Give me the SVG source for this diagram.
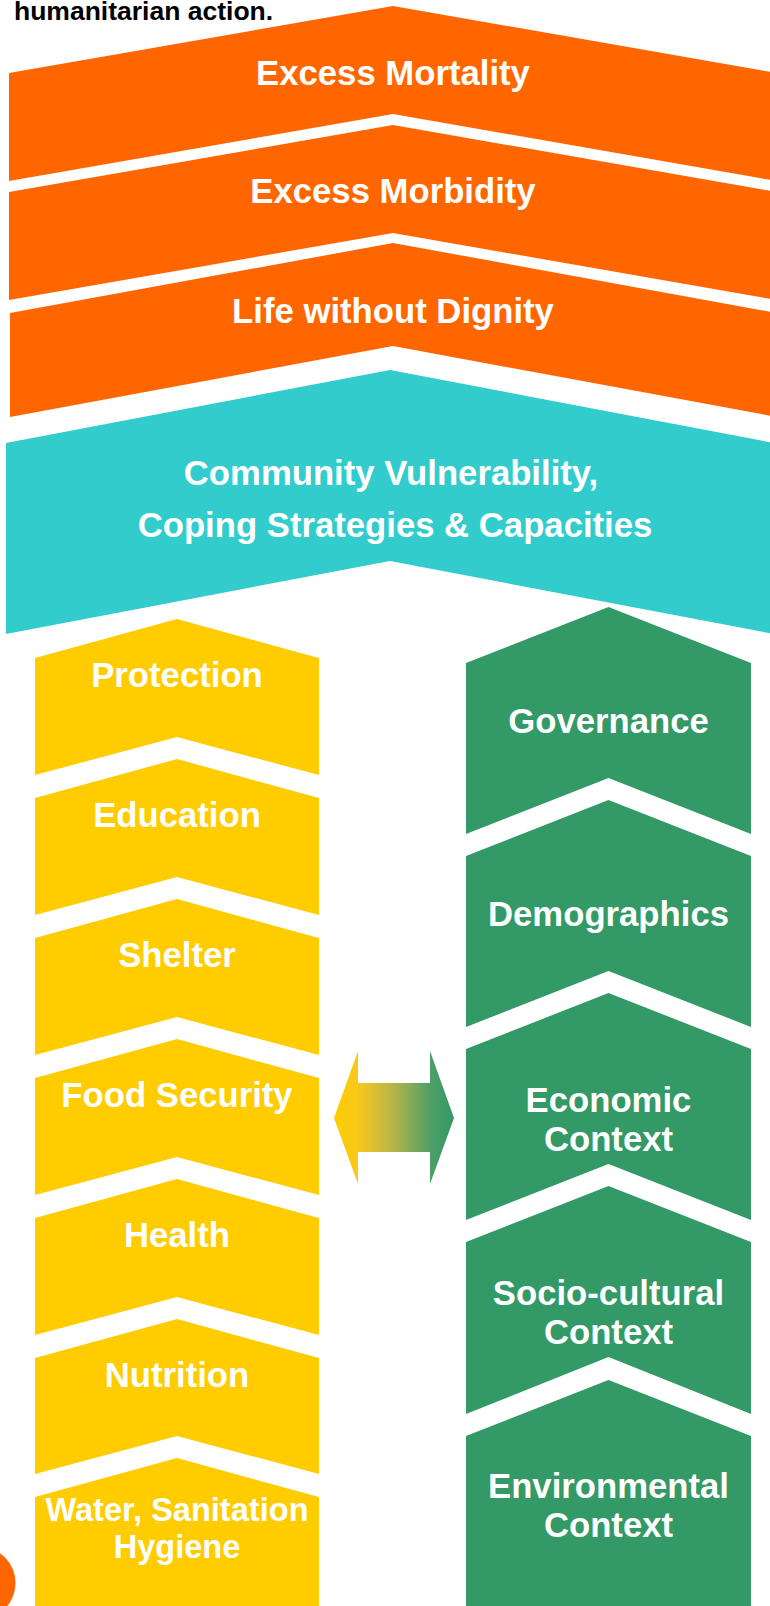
<svg xmlns="http://www.w3.org/2000/svg" width="770" height="1606" viewBox="0 0 770 1606">
<style>
.lbl{font-family:"Liberation Sans",Arial,sans-serif;font-weight:bold;font-size:34.7px;fill:#FFFFFF;text-anchor:middle}
.sm{font-size:32.6px}
.or{fill:#FF6600}
.te{fill:#33CCCC}
.ye{fill:#FFCC00}
.gr{fill:#339966}
</style>
<defs>
<linearGradient id="arrowGrad" x1="334" y1="0" x2="454" y2="0" gradientUnits="userSpaceOnUse">
<stop offset="0" stop-color="#FFCC00"/>
<stop offset="0.2" stop-color="#F8C81C"/>
<stop offset="0.5" stop-color="#B5B44A"/>
<stop offset="0.8" stop-color="#4F9F66"/>
<stop offset="1" stop-color="#339966"/>
</linearGradient>
</defs>
<rect width="770" height="1606" fill="#FFFFFF"/>
<text x="14" y="20" font-family="'Liberation Sans',Arial,sans-serif" font-weight="bold" font-size="26.5" fill="#000000">humanitarian action.</text>

<g id="excess-mortality">
<polygon class="or" points="9,73 393,6 777,73 777,181 393,114 9,181"/>
<text class="lbl" x="393" y="85">Excess Mortality</text>
</g>
<g id="excess-morbidity">
<polygon class="or" points="9,192 393,125 777,192 777,300 393,233 9,300"/>
<text class="lbl" x="393" y="203">Excess Morbidity</text>
</g>
<g id="life-without-dignity">
<polygon class="or" points="10,313 393,243 777,313 777,417 393,346 10,417"/>
<text class="lbl" x="393" y="323">Life without Dignity</text>
</g>
<g id="community">
<polygon class="te" points="6,443 390,370 774,443 774,634 390,561 6,634"/>
<text class="lbl" x="391" y="485">Community Vulnerability,</text>
<text class="lbl" x="395" y="537">Coping Strategies &amp; Capacities</text>
</g>

<g id="protection">
<polygon class="ye" points="35,658 177,619 319,658 319,775 177,737 35,775"/>
<text class="lbl" x="177" y="687">Protection</text>
</g>
<g id="education">
<polygon class="ye" points="35,798 177,759 319,798 319,915 177,877 35,915"/>
<text class="lbl" x="177" y="827">Education</text>
</g>
<g id="shelter">
<polygon class="ye" points="35,938 177,899 319,938 319,1055 177,1017 35,1055"/>
<text class="lbl" x="177" y="967">Shelter</text>
</g>
<g id="food-security">
<polygon class="ye" points="35,1078 177,1039 319,1078 319,1195 177,1157 35,1195"/>
<text class="lbl" x="177" y="1107">Food Security</text>
</g>
<g id="health">
<polygon class="ye" points="35,1218 177,1179 319,1218 319,1335 177,1297 35,1335"/>
<text class="lbl" x="177" y="1247">Health</text>
</g>
<g id="nutrition">
<polygon class="ye" points="35,1358 177,1319 319,1358 319,1474 177,1436 35,1474"/>
<text class="lbl" x="177" y="1387">Nutrition</text>
</g>
<g id="wash">
<polygon class="ye" points="35,1497 177,1458 319,1497 319,1610 35,1610"/>
<text class="lbl sm" x="177" y="1521">Water, Sanitation</text>
<text class="lbl sm" x="177" y="1558">Hygiene</text>
</g>

<g id="governance">
<polygon class="gr" points="466,663 608.5,607 751,663 751,834 608.5,778 466,834"/>
<text class="lbl" x="608.5" y="733">Governance</text>
</g>
<g id="demographics">
<polygon class="gr" points="466,856 608.5,800 751,856 751,1027 608.5,971 466,1027"/>
<text class="lbl" x="608.5" y="926">Demographics</text>
</g>
<g id="economic">
<polygon class="gr" points="466,1049 608.5,993 751,1049 751,1220 608.5,1164 466,1220"/>
<text class="lbl" x="608.5" y="1112">Economic</text>
<text class="lbl" x="608.5" y="1151">Context</text>
</g>
<g id="socio-cultural">
<polygon class="gr" points="466,1242 608.5,1186 751,1242 751,1414 608.5,1357 466,1414"/>
<text class="lbl" x="608.5" y="1305">Socio-cultural</text>
<text class="lbl" x="608.5" y="1344">Context</text>
</g>
<g id="environmental">
<polygon class="gr" points="466,1436 608.5,1380 751,1436 751,1610 466,1610"/>
<text class="lbl" x="608.5" y="1498">Environmental</text>
<text class="lbl" x="608.5" y="1537">Context</text>
</g>

<g id="connectors">
<polygon fill="url(#arrowGrad)" points="334,1118 358,1051 358,1083 430,1083 430,1051 454,1118 430,1184 430,1152 358,1152 358,1184"/>
</g>

<circle cx="-21" cy="1583" r="36.5" fill="#FF6600"/>
</svg>
